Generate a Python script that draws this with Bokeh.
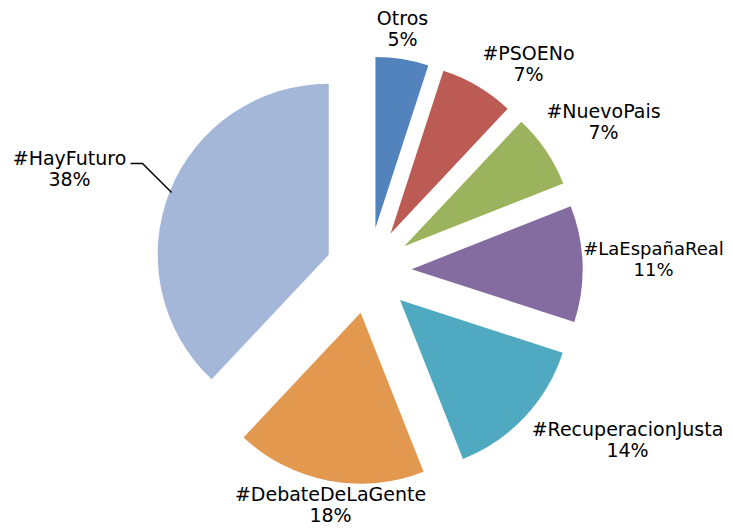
import math
from bokeh.plotting import figure
from bokeh.models import Range1d, ColumnDataSource
from bokeh.core.properties import value
from bokeh.embed import file_html
from bokeh.resources import INLINE

# ---- data ----
categories = ["Otros", "#PSOENo", "#NuevoPais", "#LaEspañaReal",
              "#RecuperacionJusta", "#DebateDeLaGente", "#HayFuturo"]
shares = [5, 7, 7, 11, 14, 18, 38]

# ---- style / layout ----
colors = ["#5283BC", "#BC5B53", "#9BB35C", "#846CA0", "#4FA9C0", "#E2984F", "#A4B7D8"]
W, H = 725, 524
IMG_H = 532
cx, cy = 368.2, IMG_H - 270.0       # pie centre (data units = pixels)
R = 171.0                           # radius
EXPLODE = 43.0                      # explosion distance
# label block centres (image coords, x, y of first line)
label_pos = [(402, 17), (528, 52), (603, 110), (653, 248), (627, 428), (330, 493), (69, 157)]
label_size = ["19px", "19px", "19px", "18px", "19px", "19px", "19px"]
LINE_GAP = 21
FONT = "DejaVu Sans"

p = figure(width=W, height=H, output_backend="svg", toolbar_location=None,
           x_range=Range1d(0, W), y_range=Range1d(IMG_H - H, IMG_H),
           min_border=0, background_fill_color="white")
p.axis.visible = False
p.grid.visible = False
p.outline_line_color = None

total = float(sum(shares))
xs, ys, starts, ends, mids = [], [], [], [], []
acc = 0.0
for v in shares:
    t1 = acc / total * 2 * math.pi          # clockwise from 12 o'clock
    t2 = (acc + v) / total * 2 * math.pi
    tm = (t1 + t2) / 2
    acc += v
    xs.append(cx + EXPLODE * math.sin(tm))
    ys.append(cy + EXPLODE * math.cos(tm))
    starts.append(math.pi / 2 - t2)
    ends.append(math.pi / 2 - t1)
    mids.append(tm)

src = ColumnDataSource(dict(x=xs, y=ys, start=starts, end=ends, color=colors))
p.wedge(x="x", y="y", radius=R, start_angle="start", end_angle="end",
        fill_color="color", line_color=None, source=src)

# labels
pct = [f"{v}%" for v in shares]
lab = ColumnDataSource(dict(
    x=[q[0] for q in label_pos],
    y1=[IMG_H - q[1] for q in label_pos],
    y2=[IMG_H - q[1] - LINE_GAP for q in label_pos],
    name=categories, pct=pct, size=label_size))
for ycol, tcol in (("y1", "name"), ("y2", "pct")):
    p.text(x="x", y=ycol, text=tcol, source=lab, text_align="center",
           text_baseline="middle", text_font=value(FONT),
           text_font_size="size", text_color="#000000")

# leader line for the largest slice
i = len(shares) - 1
ex = xs[i] + (R - 2) * math.sin(mids[i])
ey = ys[i] + (R - 2) * math.cos(mids[i])
p.line(x=[130, 142, ex], y=[IMG_H - 163, IMG_H - 163, ey], line_color="black", line_width=1.5)

open("out.html", "w").write(file_html(p, INLINE))
